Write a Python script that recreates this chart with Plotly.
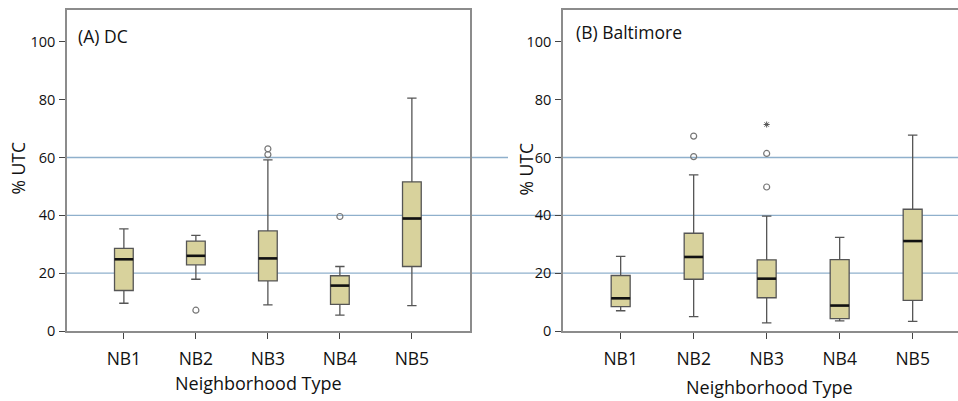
import plotly.graph_objects as go

categories = ["NB1", "NB2", "NB3", "NB4", "NB5"]

# (A) DC
dc_low = [9.6, 17.9, 9.0, 5.5, 8.8]
dc_q1 = [14.0, 22.9, 17.3, 9.2, 22.3]
dc_med = [24.8, 26.0, 25.1, 15.7, 38.9]
dc_q3 = [28.6, 31.1, 34.6, 19.1, 51.6]
dc_high = [35.3, 33.1, 59.2, 22.3, 80.5]
dc_out_cat = [1, 2, 2, 3]
dc_out_val = [7.2, 63.0, 61.0, 39.6]

# (B) Baltimore
bm_low = [7.0, 5.0, 2.8, 3.5, 3.3]
bm_q1 = [8.4, 17.9, 11.5, 4.3, 10.6]
bm_med = [11.3, 25.6, 18.1, 8.8, 31.1]
bm_q3 = [19.2, 33.8, 24.6, 24.7, 42.1]
bm_high = [25.8, 54.0, 39.7, 32.4, 67.7]
bm_out_cat = [1, 1, 2, 2]
bm_out_val = [67.4, 60.3, 61.4, 49.8]
bm_ext_cat = [2]
bm_ext_val = [71.4]

ref_lines = [20, 40, 60]
yticks = [0, 20, 40, 60, 80, 100]

W, H = 958, 401
FONT = "Open Sans"
BOXW = 0.26
FILL = "#d8d29c"
EDGE = "#555555"
FRAME = "#8c8c8c"
TXT = "#111111"

fig = go.Figure()

def add_panel(xa, ya, low, q1, med, q3, high, oc, ov, ec=None, ev=None):
    xs = list(range(len(categories)))
    fig.add_trace(go.Box(
        x=xs, q1=q1, median=med, q3=q3, lowerfence=low, upperfence=high,
        width=BOXW, whiskerwidth=0.5, fillcolor=FILL,
        line=dict(color=EDGE, width=1.3), boxpoints=False,
        xaxis=xa, yaxis=ya, showlegend=False, hoverinfo="skip"))
    mx, my = [], []
    for i, m in zip(xs, med):
        mx += [i - BOXW / 2, i + BOXW / 2, None]
        my += [m, m, None]
    fig.add_trace(go.Scatter(x=mx, y=my, mode="lines",
                             line=dict(color="#111111", width=2.6),
                             xaxis=xa, yaxis=ya, showlegend=False, hoverinfo="skip"))
    fig.add_trace(go.Scatter(x=oc, y=ov, mode="markers",
                             marker=dict(symbol="circle-open", size=6,
                                         color="#777777", line=dict(width=1.2)),
                             xaxis=xa, yaxis=ya, showlegend=False, hoverinfo="skip"))
    if ec:
        fig.add_trace(go.Scatter(x=ec, y=ev, mode="markers",
                                 marker=dict(symbol="asterisk-open", size=5,
                                             color="#555555", line=dict(width=1)),
                                 xaxis=xa, yaxis=ya, showlegend=False, hoverinfo="skip"))

add_panel("x", "y", dc_low, dc_q1, dc_med, dc_q3, dc_high, dc_out_cat, dc_out_val)
add_panel("x2", "y2", bm_low, bm_q1, bm_med, bm_q3, bm_high, bm_out_cat, bm_out_val,
          bm_ext_cat, bm_ext_val)

ydom = [(H - 331) / H, (H - 10) / H]
xdom1 = [67 / W, 470 / W]
xdom2 = [563 / W, 1.0]

xcommon = dict(tickmode="array", tickvals=list(range(5)), ticktext=categories,
               ticks="outside", ticklen=6, tickcolor="#444444", tickwidth=1.2,
               showgrid=False, zeroline=False, showline=True, linecolor=FRAME,
               linewidth=1.5, ticklabelstandoff=5,
               tickfont=dict(family=FONT, size=17.5, color=TXT))
ycommon = dict(range=[0, 111], tickmode="array", tickvals=yticks,
               ticks="outside", ticklen=6, tickcolor="#444444", tickwidth=1.2,
               showgrid=False, zeroline=False, showline=True, linecolor=FRAME,
               linewidth=1.5, ticklabelstandoff=1,
               tickfont=dict(family=FONT, size=14.5, color=TXT))

fig.update_layout(
    width=W, height=H,
    margin=dict(l=0, r=0, t=0, b=0, autoexpand=False),
    paper_bgcolor="white", plot_bgcolor="rgba(0,0,0,0)",
    xaxis=dict(domain=xdom1, range=[-0.79, -0.79 + 403 / 72], mirror=True, **xcommon),
    yaxis=dict(domain=ydom, anchor="x", mirror=True, **ycommon),
    xaxis2=dict(domain=xdom2, range=[-0.79, -0.79 + 395 / 73], anchor="y2", mirror=True, **xcommon),
    yaxis2=dict(domain=ydom, anchor="x2", mirror=False, **ycommon),
)

# horizontal reference lines spanning both panels
for v in ref_lines:
    segs = [(67 / W, 1.0)] if v != 60 else [(67 / W, 508 / W), (558 / W, 1.0)]
    for a, b in segs:
        fig.add_shape(type="line", xref="paper", yref="y", x0=a, x1=b, y0=v, y1=v,
                      line=dict(color="#8fb0cc", width=1.3), layer="below")

def ann(text, x, y, size, angle=0, xanchor="center"):
    fig.add_annotation(text=text, xref="paper", yref="paper",
                       x=x / W, y=1 - y / H, showarrow=False, textangle=angle,
                       xanchor=xanchor, yanchor="middle",
                       font=dict(family=FONT, size=size, color=TXT))

ann("(A) DC", 76, 36, 17.5, xanchor="left")
ann("(B) Baltimore", 574, 32, 17.5, xanchor="left")
ann("% UTC", 17.5, 169, 17.5, angle=-90)
ann("% UTC", 525.5, 170, 17.5, angle=-90)
ann("Neighborhood Type", 258, 383, 18)
ann("Neighborhood Type", 769, 387, 18)

fig.write_html("out.html", config={"displayModeBar": False})

# remove default page margin so the figure sits at the window's top-left corner
with open("out.html", "r", encoding="utf-8") as f:
    html = f.read()
html = html.replace("<head>", "<head><style>html,body{margin:0;padding:0;overflow:hidden;}</style>", 1)
with open("out.html", "w", encoding="utf-8") as f:
    f.write(html)
